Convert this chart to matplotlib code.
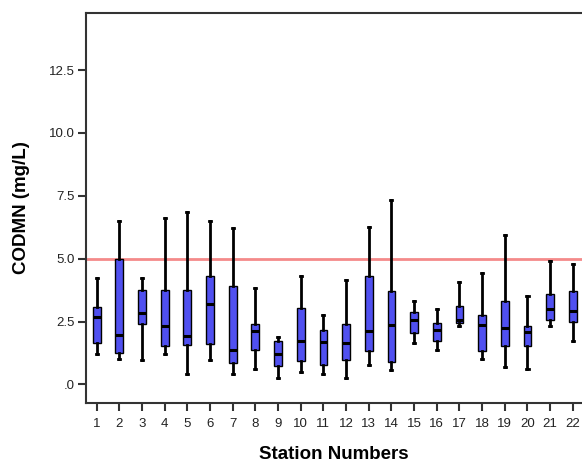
import matplotlib.pyplot as plt

plt.rcParams['font.family'] = ['Liberation Sans', 'DejaVu Sans']

stations = list(range(1, 23))
whisker_low = [1.20, 1.02, 0.98, 1.20, 0.43, 0.98, 0.40, 0.63, 0.27, 0.49, 0.40,
               0.27, 0.76, 0.56, 1.66, 1.38, 2.31, 1.02, 0.69, 0.60, 2.31, 1.71]
q1 = [1.66, 1.26, 2.42, 1.52, 1.56, 1.62, 0.86, 1.38, 0.73, 0.92, 0.76,
      0.98, 1.32, 0.89, 2.06, 1.73, 2.45, 1.32, 1.53, 1.53, 2.58, 2.48]
median = [2.68, 1.98, 2.82, 2.31, 1.93, 3.19, 1.36, 2.11, 1.22, 1.71, 1.69,
          1.66, 2.11, 2.35, 2.58, 2.15, 2.55, 2.35, 2.26, 2.07, 2.99, 2.91]
q3 = [3.08, 4.98, 3.77, 3.75, 3.74, 4.31, 3.91, 2.42, 1.71, 3.04, 2.18,
      2.39, 4.32, 3.71, 2.86, 2.45, 3.12, 2.75, 3.31, 2.33, 3.58, 3.71]
whisker_high = [4.24, 6.51, 4.24, 6.63, 6.86, 6.51, 6.21, 3.85, 1.89, 4.32, 2.75,
                4.17, 6.25, 7.34, 3.32, 2.99, 4.08, 4.41, 5.94, 3.51, 4.92, 4.78]
standard = 5.0

stats = []
for i in range(len(stations)):
    stats.append({'whislo': whisker_low[i], 'q1': q1[i], 'med': median[i],
                  'q3': q3[i], 'whishi': whisker_high[i], 'fliers': []})

fig = plt.figure(figsize=(5.82, 4.71), dpi=100)
ax = fig.add_axes([0.1478, 0.1444, 0.8522, 0.828])

# guideline value
ax.axhline(standard, color='#f48a8a', linewidth=2, zorder=1)

ax.bxp(stats, positions=stations, widths=0.34, patch_artist=True,
       boxprops=dict(facecolor='#5050f0', edgecolor='black', linewidth=1.0),
       medianprops=dict(color='black', linewidth=2.2),
       whiskerprops=dict(color='black', linewidth=2.0),
       capprops=dict(color='black', linewidth=2.0),
       capwidths=0.1, zorder=3)

ax.set_xlim(0.53, 22.41)
ax.set_ylim(-0.74, 14.77)
ax.set_yticks([0, 2.5, 5.0, 7.5, 10.0, 12.5])
ax.set_yticklabels(['.0', '2.5', '5.0', '7.5', '10.0', '12.5'])
ax.set_xticks(stations)
ax.set_xticklabels([str(s) for s in stations])

ax.spines['right'].set_visible(False)
for side in ['left', 'top', 'bottom']:
    ax.spines[side].set_color('#333333')
    ax.spines[side].set_linewidth(1.5)
ax.tick_params(axis='both', direction='out', length=6, width=1.5, color='#333333',
               labelsize=9.5, labelcolor='#222222')
ax.tick_params(axis='x', pad=5)
ax.tick_params(axis='y', pad=2)

ax.set_xlabel('Station Numbers', fontsize=13.5, fontweight='bold', labelpad=11)
ax.set_ylabel('CODMN (mg/L)', fontsize=13.5, fontweight='bold', labelpad=14)

fig.savefig('out.png', dpi=100)
